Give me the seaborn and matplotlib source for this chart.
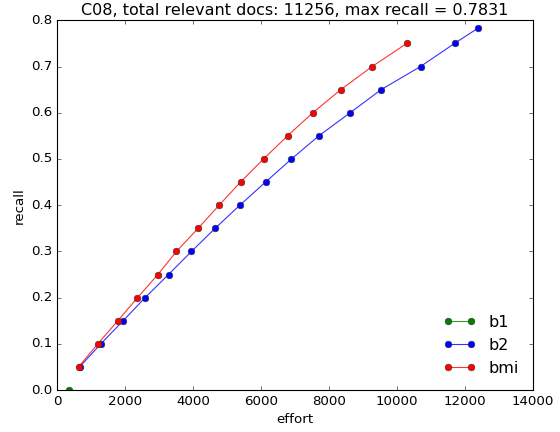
import matplotlib
matplotlib.use("Agg")
import matplotlib.pyplot as plt
from matplotlib.colors import to_rgba
import pandas as pd
import seaborn as sns

# ── Data ──────────────────────────────────────────────────────────────────────
TITLE = "C08, total relevant docs: 11256, max recall = 0.7831"

b1_effort = [335]
b1_recall = [0.0]

b2_effort = [660, 1285, 1941, 2588, 3276, 3952, 4648, 5374, 6129, 6893,
             7697, 8618, 9530, 10688, 11688, 12382]
b2_recall = [0.05, 0.10, 0.15, 0.20, 0.25, 0.30, 0.35, 0.40, 0.45, 0.50,
             0.55, 0.60, 0.65, 0.70, 0.75, 0.7831]

bmi_effort = [629, 1197, 1785, 2364, 2962, 3511, 4147, 4765, 5394, 6071,
              6776, 7521, 8344, 9265, 10285]
bmi_recall = [0.05, 0.10, 0.15, 0.20, 0.25, 0.30, 0.35, 0.40, 0.45, 0.50,
              0.55, 0.60, 0.65, 0.70, 0.75]

methods = ["b1", "b2", "bmi"]
colors = {"b1": "green", "b2": "blue", "bmi": "red"}

df = pd.concat([
    pd.DataFrame({"effort": b1_effort, "recall": b1_recall, "method": "b1"}),
    pd.DataFrame({"effort": b2_effort, "recall": b2_recall, "method": "b2"}),
    pd.DataFrame({"effort": bmi_effort, "recall": bmi_recall, "method": "bmi"}),
], ignore_index=True)

# ── Plot ──────────────────────────────────────────────────────────────────────
plt.style.use("classic")
plt.rcParams["figure.facecolor"] = "white"
plt.rcParams["savefig.facecolor"] = "white"
plt.rcParams["font.family"] = ["DejaVu Sans"]

fig, ax = plt.subplots(figsize=(7, 5.4), dpi=80)
fig.subplots_adjust(left=0.102, right=0.952, bottom=0.097, top=0.953)

for m in methods:
    sub = df[df["method"] == m]
    sns.lineplot(
        data=sub, x="effort", y="recall", ax=ax,
        color=colors[m], marker="o", markersize=6,
        markeredgecolor="#333333", markeredgewidth=0.5,
        linewidth=1, label=m, sort=False, estimator=None,
    )

# lighter connecting lines, solid markers
for line in ax.get_lines():
    c = line.get_color()
    line.set_markerfacecolor(c)
    line.set_color(to_rgba(c, 0.8))

ax.set_xlim(0, 14000)
ax.set_ylim(0, 0.8)
ax.set_xticks(range(0, 14001, 2000))
ax.set_yticks([i / 10 for i in range(9)])
ax.set_xlabel("effort")
ax.set_ylabel("recall")
ax.set_title(TITLE)

handles, labels = ax.get_legend_handles_labels()
ax.legend(handles, labels, loc="lower right", frameon=False, numpoints=2)

fig.savefig("out.png", dpi=80)
